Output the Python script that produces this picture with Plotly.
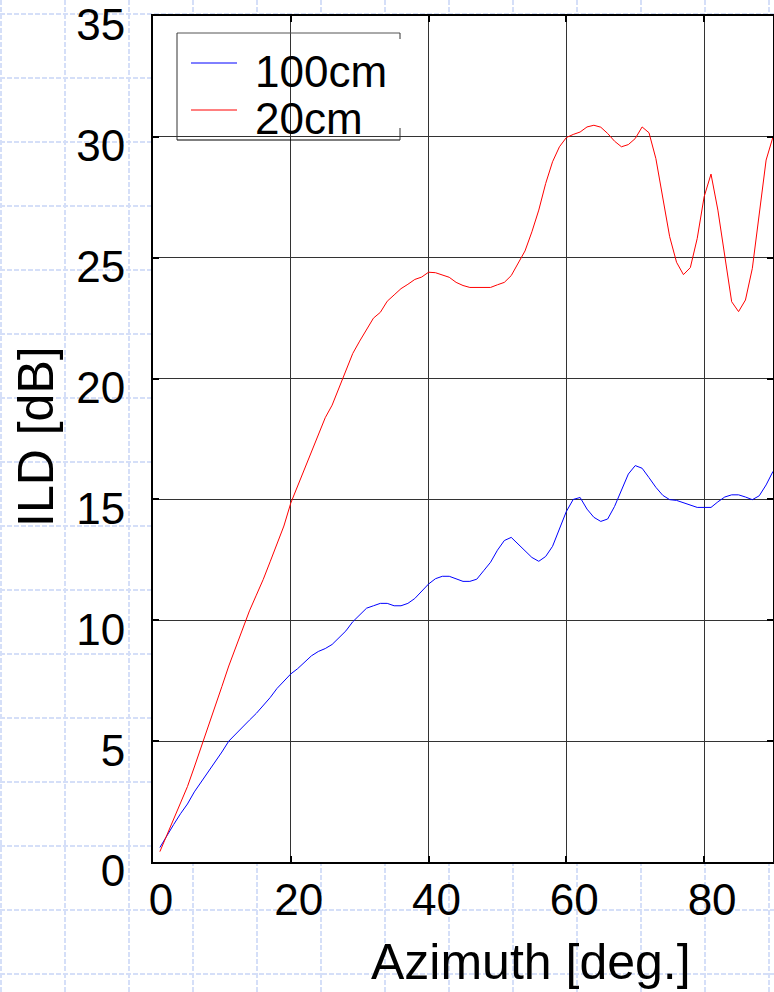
import plotly.graph_objects as go

# ---------------- data ----------------
azimuth = list(range(1, 91))  # degrees

ild_100cm = [
    0.6, 1.1, 1.55, 2.0, 2.4, 2.9, 3.3, 3.7, 4.1, 4.55,
    5.0, 5.3, 5.6, 5.87, 6.15, 6.47, 6.8, 7.18, 7.5, 7.78,
    8.0, 8.28, 8.53, 8.71, 8.83, 9.0, 9.3, 9.56, 9.94, 10.24,
    10.5, 10.6, 10.7, 10.7, 10.6, 10.6, 10.7, 10.9, 11.2, 11.5,
    11.72, 11.82, 11.82, 11.7, 11.61, 11.61, 11.7, 12.05, 12.4, 12.9,
    13.3, 13.43, 13.15, 12.88, 12.6, 12.44, 12.64, 13.06, 13.75, 14.5,
    15.0, 15.08, 14.6, 14.26, 14.09, 14.19, 14.71, 15.4, 16.05, 16.4,
    16.29, 15.9, 15.5, 15.17, 14.99, 14.96, 14.87, 14.75, 14.67, 14.67,
    14.67, 14.9, 15.1, 15.19, 15.19, 15.1, 14.99, 15.15, 15.6, 16.16,
]

ild_20cm = [
    0.43, 1.1, 1.76, 2.43, 3.12, 3.93, 4.74, 5.57, 6.42, 7.26,
    8.11, 8.9, 9.67, 10.39, 11.04, 11.69, 12.42, 13.15, 13.9, 14.85,
    15.55, 16.25, 16.98, 17.71, 18.38, 18.9, 19.6, 20.32, 21.04, 21.55,
    22.05, 22.5, 22.74, 23.2, 23.46, 23.72, 23.9, 24.1, 24.2, 24.4,
    24.38, 24.3, 24.19, 23.98, 23.85, 23.77, 23.77, 23.77, 23.77, 23.88,
    23.98, 24.26, 24.74, 25.28, 26.07, 26.97, 28.07, 28.97, 29.59, 29.97,
    30.1, 30.2, 30.41, 30.48, 30.4, 30.14, 29.82, 29.59, 29.68, 29.93,
    30.41, 30.17, 29.1, 27.45, 25.87, 24.81, 24.3, 24.59, 25.8, 27.52,
    28.46, 26.97, 25.08, 23.18, 22.77, 23.25, 24.56, 26.76, 29.04, 30.0,
]

series_names = ["100cm", "20cm"]
series_colors = ["#0000ff", "#ff0000"]
x_ticks = [0, 20, 40, 60, 80]
y_ticks = [0, 5, 10, 15, 20, 25, 30, 35]
x_title = "Azimuth [deg.]"
y_title = "ILD [dB]"

# ---------------- figure geometry ----------------
W, H = 774, 992
ML, MR, MT, MB = 153, 1, 16, 130
PW, PH = W - ML - MR, H - MT - MB
FONT = "Liberation Sans, Arial, sans-serif"


def px_x(px):
    return (px - ML) / PW


def px_y(py):
    return (H - MB - py) / PH


fig = go.Figure()
for name, vals, col in zip(series_names, [ild_100cm, ild_20cm], series_colors):
    fig.add_trace(go.Scatter(x=azimuth, y=vals, mode="lines", name=name,
                             line=dict(color=col, width=1), showlegend=False))

shapes = []
# graph-paper background
bg_col = "#d5dff8"
for vx in range(0, W + 1, 64):
    shapes.append(dict(type="line", xref="paper", yref="paper", layer="below",
                       x0=px_x(vx + 1), x1=px_x(vx + 1), y0=px_y(0), y1=px_y(H),
                       line=dict(color=bg_col, width=2, dash="5px,2px")))
for hy in range(14, H + 1, 64):
    shapes.append(dict(type="line", xref="paper", yref="paper", layer="below",
                       x0=px_x(0), x1=px_x(W), y0=px_y(hy), y1=px_y(hy),
                       line=dict(color=bg_col, width=2, dash="5px,2px")))
# white plot area over the paper grid
shapes.append(dict(type="rect", xref="paper", yref="paper", layer="below",
                   x0=0, x1=1, y0=0, y1=1, fillcolor="white", line=dict(width=0)))

# legend frame
frame = [
    ((177, 33), (400, 33), "#555555"),
    ((177, 33), (177, 140), "#333333"),
    ((177, 140), (400, 140), "#000000"),
    ((400, 33), (400, 39), "#333333"),
    ((400, 128), (400, 140), "#333333"),
]
for (xa, ya), (xb, yb), c in frame:
    shapes.append(dict(type="line", xref="paper", yref="paper",
                       x0=px_x(xa), x1=px_x(xb), y0=px_y(ya), y1=px_y(yb),
                       line=dict(color=c, width=1)))
annotations = []
for i, (name, col) in enumerate(zip(series_names, series_colors)):
    ly = 63 + 47 * i
    shapes.append(dict(type="line", xref="paper", yref="paper",
                       x0=px_x(191), x1=px_x(237), y0=px_y(ly), y1=px_y(ly),
                       line=dict(color=col, width=1)))
    annotations.append(dict(text=name, xref="paper", yref="paper",
                            x=px_x(253), y=px_y(ly + 8.5), xanchor="left", yanchor="middle",
                            showarrow=False, font=dict(family=FONT, size=44, color="black")))

# axis titles
annotations.append(dict(text=x_title, xref="paper", yref="paper", x=px_x(531), y=px_y(962),
                        xanchor="center", yanchor="middle", showarrow=False,
                        font=dict(family=FONT, size=50, color="black")))
annotations.append(dict(text=y_title, xref="paper", yref="paper", x=px_x(36), y=px_y(437),
                        xanchor="center", yanchor="middle", showarrow=False, textangle=-90,
                        font=dict(family=FONT, size=50, color="black")))

axis_common = dict(showgrid=True, gridcolor="#333333", gridwidth=1,
                   showline=True, linecolor="black", linewidth=2, mirror="allticks",
                   ticks="inside", ticklen=6, tickwidth=2, tickcolor="black",
                   zeroline=False, automargin=False,
                   tickfont=dict(family=FONT, size=44, color="black"))

fig.update_layout(
    width=W, height=H,
    margin=dict(l=ML, r=MR, t=MT, b=MB, pad=0, autoexpand=False),
    paper_bgcolor="white", plot_bgcolor="white",
    showlegend=False,
    xaxis=dict(range=[0, 90], tickvals=x_ticks, ticklabelshift=8, ticklabelstandoff=-2,
               **axis_common),
    yaxis=dict(range=[0, 35], tickvals=y_ticks, ticklabelshift=9, ticklabelstandoff=17,
               ticklabeloverflow="allow", **axis_common),
    shapes=shapes,
    annotations=annotations,
)

fig.write_html("out.html", config={"displayModeBar": False},
               post_script="document.body.style.margin='0px';document.body.style.overflow='hidden';")
